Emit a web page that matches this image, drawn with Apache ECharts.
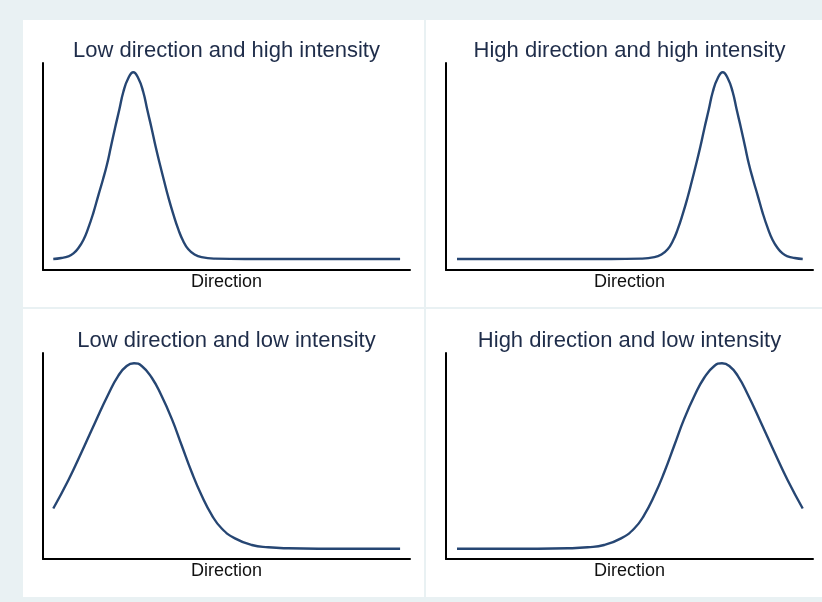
<!DOCTYPE html>
<html>
<head>
<meta charset="utf-8">
<script src="https://cdn.jsdelivr.net/npm/echarts@6/dist/echarts.min.js"></script>
<style>
html,body{margin:0;padding:0;background:#e9f1f3;}
#main{width:822px;height:602px;}
</style>
</head>
<body>
<div id="main"></div>
<script>
// panel titles
var titles = [
    'Low direction and high intensity',
    'High direction and high intensity',
    'Low direction and low intensity',
    'High direction and low intensity'
];
var xName = 'Direction';

// curves: [direction, density] on 0..100 scales
var lowHigh = [
    [2.8,5.3],[5,5.8],[6.9,6.6],[8.3,8],[9.6,10.5],[11,14.5],[12.3,20.1],[13.7,27.5],[15.1,36.2],
    [16.3,43.5],[17.4,50.7],[18.5,59.5],[19.6,68.4],[20.8,77.5],[21.9,86.1],[23.2,92.5],
    [24.6,95.5],[26,92.5],[27.3,86.1],[28.4,77.5],[29.6,68.4],[30.7,59.5],[31.9,50.7],
    [33,43],[34.1,35.5],[35.5,27],[36.9,19.5],[38.2,14],[39.6,10],[41.3,7.5],[43.2,6.2],
    [46.9,5.5],[55,5.3],[65,5.3],[75,5.3],[85,5.3],[97.3,5.3]
];
var highHigh = [
    [3,5.3],[15,5.3],[25,5.3],[35,5.3],[45,5.3],[53.1,5.5],[56.8,6.2],[58.7,7.5],[60.4,10],
    [61.8,14],[63.1,19.5],[64.5,27],[65.9,35.5],[67,43],[68.1,50.7],[69.3,59.5],[70.4,68.4],
    [71.6,77.5],[72.7,86.1],[74,92.5],[75.4,95.5],[76.8,92.5],[78.1,86.1],[79.2,77.5],
    [80.4,68.4],[81.5,59.5],[82.6,50.7],[83.7,43.5],[84.9,36.2],[86.3,27.5],[87.7,20.1],
    [89,14.5],[90.4,10.5],[91.7,8],[93.1,6.6],[95,5.8],[97.2,5.3]
];
var lowLow = [
    [2.8,24.5],[6.9,38.2],[10.5,51.8],[14.2,66.3],[17.8,80.0],[20.5,88.9],[22.8,93.7],
    [24.8,95.0],[26.9,93.7],[29.6,88.1],[32.3,79.2],[35.1,68.0],[37.8,55.1],[40.5,42.2],
    [43.2,30.9],[46.0,21.3],[48.7,14.8],[52.3,10.0],[56.9,6.8],[61.4,5.7],[66.8,5.2],
    [75,5.0],[85,5.0],[97.3,5.0]
];
var highLow = [
    [3,5.0],[15,5.0],[25,5.0],[33.2,5.2],[38.6,5.7],[43.1,6.8],[47.7,10.0],[51.3,14.8],
    [54,21.3],[56.8,30.9],[59.5,42.2],[62.2,55.1],[64.9,68.0],[67.7,79.2],[70.4,88.1],
    [73.1,93.7],[75.2,95.0],[77.2,93.7],[79.5,88.9],[82.2,80.0],[85.8,66.3],[89.5,51.8],
    [93.1,38.2],[97.2,24.5]
];

var curves = [lowHigh, highHigh, lowLow, highLow];

var fontFam = '"Liberation Sans", Arial, sans-serif';
var lineColor = '#264673';

// panel boxes (white) and plot grids
var panels = [
    {x:23, y:20, w:401, h:287},
    {x:426, y:20, w:396, h:287},
    {x:23, y:309, w:401, h:288},
    {x:426, y:309, w:396, h:288}
];
var grids = [
    {left:43, top:63, width:367, height:207},
    {left:446, top:63, width:367, height:207},
    {left:43, top:353, width:367, height:206},
    {left:446, top:353, width:367, height:206}
];

var myChart = echarts.init(document.getElementById('main'));

var option = {
    backgroundColor: '#e9f1f3',
    animation: false,
    graphic: [],
    title: [],
    grid: [],
    xAxis: [],
    yAxis: [],
    series: []
};

for (var i = 0; i < 4; i++) {
    var p = panels[i], g = grids[i];
    option.graphic.push({
        type: 'rect', z: -10, silent: true,
        shape: {x: p.x, y: p.y, width: p.w, height: p.h},
        style: {fill: '#ffffff'}
    });
    option.title.push({
        text: titles[i],
        left: g.left + g.width / 2 - 5,
        top: g.top - 28,
        textAlign: 'center',
        textStyle: {color: '#1f2d4a', fontWeight: 'normal', fontSize: 22, fontFamily: fontFam}
    });
    option.grid.push({left: g.left, top: g.top, width: g.width, height: g.height});
    option.xAxis.push({
        type: 'value', gridIndex: i, min: 0, max: 100,
        name: xName, nameLocation: 'middle', nameGap: 3,
        nameTextStyle: {color: '#111', fontSize: 18, fontFamily: fontFam},
        axisLine: {show: true, lineStyle: {color: '#000', width: 2}},
        axisTick: {show: false}, axisLabel: {show: false}, splitLine: {show: false}
    });
    option.yAxis.push({
        type: 'value', gridIndex: i, min: 0, max: 100,
        axisLine: {show: true, lineStyle: {color: '#000', width: 2}},
        axisTick: {show: false}, axisLabel: {show: false}, splitLine: {show: false}
    });
    option.series.push({
        type: 'line', xAxisIndex: i, yAxisIndex: i,
        data: curves[i], smooth: 0.5, showSymbol: false,
        lineStyle: {color: lineColor, width: 2.4}
    });
}

myChart.setOption(option);
</script>
</body>
</html>
